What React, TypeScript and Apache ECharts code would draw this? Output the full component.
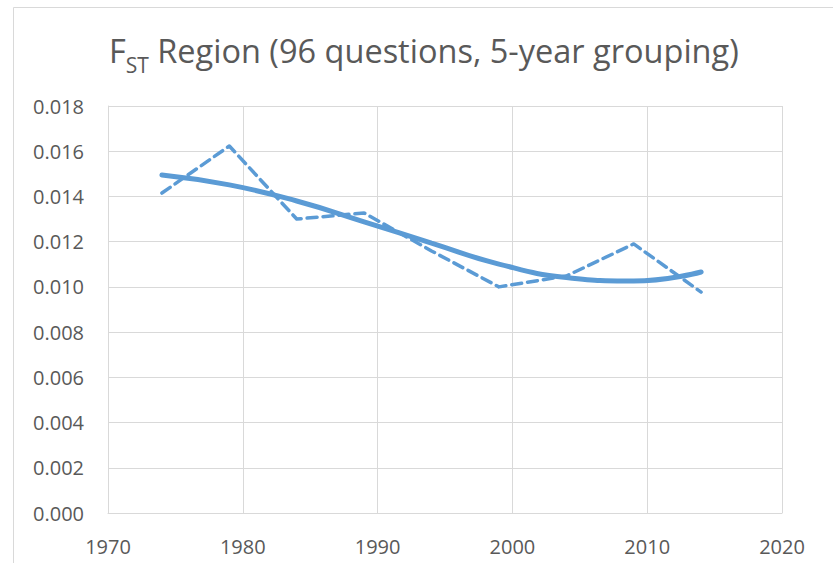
import React, { useEffect, useRef } from "react";
import * as echarts from "echarts";

const years = [1974, 1979, 1984, 1989, 1994, 1999, 2004, 2009, 2014];
const fstValues = [0.01415, 0.01623, 0.0130, 0.01327, 0.01159, 0.0100, 0.01048, 0.0119, 0.00977];
const trendValues = [0.01495, 0.01451, 0.0138, 0.01288, 0.01194, 0.01101, 0.01042, 0.01026, 0.01066];
const xTicks = [1970, 1980, 1990, 2000, 2010, 2020];
const yTicks = [0, 0.002, 0.004, 0.006, 0.008, 0.01, 0.012, 0.014, 0.016, 0.018];

const BLUE = "#5B9BD5";
const GRID = "#D9D9D9";
const TEXT = "#595959";
const FONT = "'Open Sans', sans-serif";

export default function App() {
  const ref = useRef<HTMLDivElement>(null);
  useEffect(() => {
    if (!ref.current) return;
    const chart = echarts.init(ref.current, null, { renderer: "svg" });
    chart.setOption({
      animation: false,
      backgroundColor: "#fff",
      title: {
        text: "{a|F}{s|ST}{a| Region (96 questions, 5-year grouping)}",
        left: 109,
        top: 25,
        padding: 0,
        textStyle: {
          fontWeight: "normal",
          rich: {
            a: { fontFamily: FONT, fontSize: 32.5, fontWeight: "normal", color: TEXT, lineHeight: 42, verticalAlign: "bottom" },
            s: { fontFamily: FONT, fontSize: 21, fontWeight: "normal", color: TEXT, lineHeight: 42, verticalAlign: "bottom", padding: [0, 0, -8, 0] },
          },
        },
      },
      graphic: [
        {
          type: "rect",
          shape: { x: 13.5, y: 7.5, width: 900, height: 600 },
          style: { fill: "none", stroke: GRID, lineWidth: 1 },
          silent: true,
        },
      ],
      grid: { left: 108, top: 106, width: 674, height: 407, containLabel: false },
      xAxis: {
        type: "value",
        min: xTicks[0],
        max: xTicks[xTicks.length - 1],
        interval: 10,
        axisLine: { show: true, lineStyle: { color: GRID, width: 1 } },
        axisTick: { show: false },
        splitLine: { show: true, lineStyle: { color: GRID, width: 1 } },
        axisLabel: { color: TEXT, fontFamily: FONT, fontSize: 20, margin: 23, formatter: (v: number) => String(v) },
      },
      yAxis: {
        type: "value",
        min: yTicks[0],
        max: yTicks[yTicks.length - 1],
        interval: 0.002,
        axisLine: { show: true, lineStyle: { color: GRID, width: 1 } },
        axisTick: { show: false },
        splitLine: { show: true, lineStyle: { color: GRID, width: 1 } },
        axisLabel: { color: TEXT, fontFamily: FONT, fontSize: 20, margin: 24, formatter: (v: number) => v.toFixed(3) },
      },
      series: [
        {
          name: "FST",
          type: "line",
          data: years.map((y, i) => [y, fstValues[i]]),
          showSymbol: false,
          lineStyle: { color: BLUE, width: 3.5, type: [10, 6], cap: "round", join: "round" },
        },
        {
          name: "Trend",
          type: "line",
          data: years.map((y, i) => [y, trendValues[i]]),
          smooth: 0.5,
          showSymbol: false,
          lineStyle: { color: BLUE, width: 5, cap: "round" },
        },
      ],
    });
    return () => chart.dispose();
  }, []);
  return (
    <div
      ref={ref}
      style={{ position: "fixed", left: 0, top: 0, width: 833, height: 563 }}
    />
  );
}
